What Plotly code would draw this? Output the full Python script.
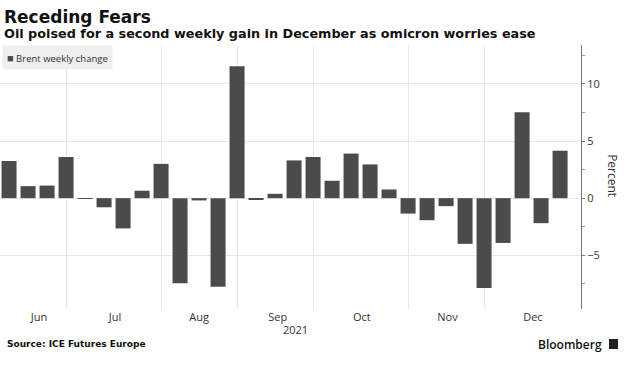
import plotly.graph_objects as go

# Week-ending dates (Fridays) and Brent weekly % change
weeks = [
    "2021-06-04", "2021-06-11", "2021-06-18", "2021-06-25", "2021-07-02",
    "2021-07-09", "2021-07-16", "2021-07-23", "2021-07-30", "2021-08-06",
    "2021-08-13", "2021-08-20", "2021-08-27", "2021-09-03", "2021-09-10",
    "2021-09-17", "2021-09-24", "2021-10-01", "2021-10-08", "2021-10-15",
    "2021-10-22", "2021-10-29", "2021-11-05", "2021-11-12", "2021-11-19",
    "2021-11-26", "2021-12-03", "2021-12-10", "2021-12-17", "2021-12-24",
]
brent_change = [
    3.25, 1.05, 1.10, 3.60, -0.05, -0.80, -2.65, 0.65, 3.00, -7.45,
    -0.20, -7.75, 11.55, -0.15, 0.38, 3.30, 3.60, 1.52, 3.90, 2.95,
    0.76, -1.35, -1.93, -0.70, -4.00, -7.87, -3.92, 7.52, -2.19, 4.15,
]
series_name = "Brent weekly change"

# Vertical gridlines (last week of each month) and month label positions
grid_dates = ["2021-06-25", "2021-07-30", "2021-08-27", "2021-09-24", "2021-10-29", "2021-11-26"]
month_label_dates = ["2021-06-15", "2021-07-13", "2021-08-13", "2021-09-11", "2021-10-12", "2021-11-12 12:00", "2021-12-14"]
month_labels = ["Jun", "Jul", "Aug", "Sep", "Oct", "Nov", "Dec"]
y_ticks = [-5, 0, 5, 10]

FONT = "DejaVu Sans"
TICKFONT = "Open Sans"
BAR = "#4b4b4b"
GRID = "#e8e8e8"

fig = go.Figure()
fig.add_trace(go.Bar(
    x=weeks, y=brent_change, name=series_name,
    marker=dict(color=BAR, line=dict(width=0)), showlegend=False,
))
# invisible trace on second x-axis to hold month labels
fig.add_trace(go.Scatter(x=[weeks[0]], y=[0], xaxis="x2", mode="markers",
                         marker=dict(opacity=0), showlegend=False, hoverinfo="skip"))

xrange = ["2021-05-31 16:00", "2021-12-31 17:00"]
fig.update_layout(
    width=629, height=366,
    margin=dict(l=0, r=48, t=45, b=57),
    paper_bgcolor="white", plot_bgcolor="white",
    bargap=0.21,
    showlegend=False,
    xaxis=dict(type="date", range=xrange, tickvals=grid_dates, showticklabels=False,
               showgrid=True, gridcolor=GRID, gridwidth=1, ticks="", zeroline=False,
               showline=False),
    xaxis2=dict(type="date", range=xrange, overlaying="x", side="bottom",
                tickvals=month_label_dates, ticktext=month_labels, showgrid=False,
                ticks="", showline=False, zeroline=False,
                tickfont=dict(family=TICKFONT, size=11, color="#333")),
    yaxis=dict(side="right", range=[-9.7, 13.4], tickvals=y_ticks,
               ticks="outside", ticklen=3, tickcolor="#777",
               showline=True, linecolor="#777", linewidth=1,
               showgrid=True, gridcolor=GRID, zeroline=False,
               tickfont=dict(family=TICKFONT, size=11, color="#333"),
               minor=dict(dtick=2.5, tick0=0, ticks="outside", ticklen=3, tickcolor="#999", showgrid=False)),
    annotations=[
        dict(text="<b>Receding Fears</b>", xref="paper", yref="paper", x=0.004, y=1.106,
             xanchor="left", yanchor="middle", showarrow=False,
             font=dict(family=FONT, size=17, color="#111")),
        dict(text="<b>Oil poised for a second weekly gain in December as omicron worries ease</b>",
             xref="paper", yref="paper", x=0.004, y=1.042, xanchor="left", yanchor="middle",
             showarrow=False, font=dict(family=FONT, size=12.8, color="#111")),
        dict(text=f"<span style='color:{BAR};font-size:11px'>■</span> {series_name}", xref="paper", yref="paper",
             x=0.0035, y=1.0, xanchor="left", yanchor="top", showarrow=False,
             bgcolor="#efefef", borderpad=4,
             font=dict(family=TICKFONT, size=9.5, color="#333")),
        dict(text="Percent", xref="paper", yref="paper", x=1.053, y=0.504, textangle=90,
             xanchor="center", yanchor="middle", showarrow=False,
             font=dict(family=TICKFONT, size=12, color="#333")),
        dict(text="2021", xref="paper", yref="paper", x=295/581, y=-0.0795,
             xanchor="center", yanchor="middle", showarrow=False,
             font=dict(family=TICKFONT, size=11, color="#333")),
        dict(text="<b>Source: ICE Futures Europe</b>", xref="paper", yref="paper", x=0.008, y=-0.1326,
             xanchor="left", yanchor="middle", showarrow=False,
             font=dict(family=FONT, size=9, color="#111")),
        dict(text="Bloomberg", xref="paper", yref="paper", x=604/581, y=-0.1326,
             xanchor="right", yanchor="middle", showarrow=False,
             font=dict(family="Open Sans", size=12, color="#111", weight=600)),
    ],
    shapes=[
        dict(type="rect", xref="paper", yref="paper", x0=609/581, x1=618/581,
             y0=(309-349)/264, y1=(309-339)/264, fillcolor="#222", line=dict(width=0)),
    ],
)

fig.write_html("out.html", config={"displayModeBar": False},
               post_script="document.body.style.margin='0';")
